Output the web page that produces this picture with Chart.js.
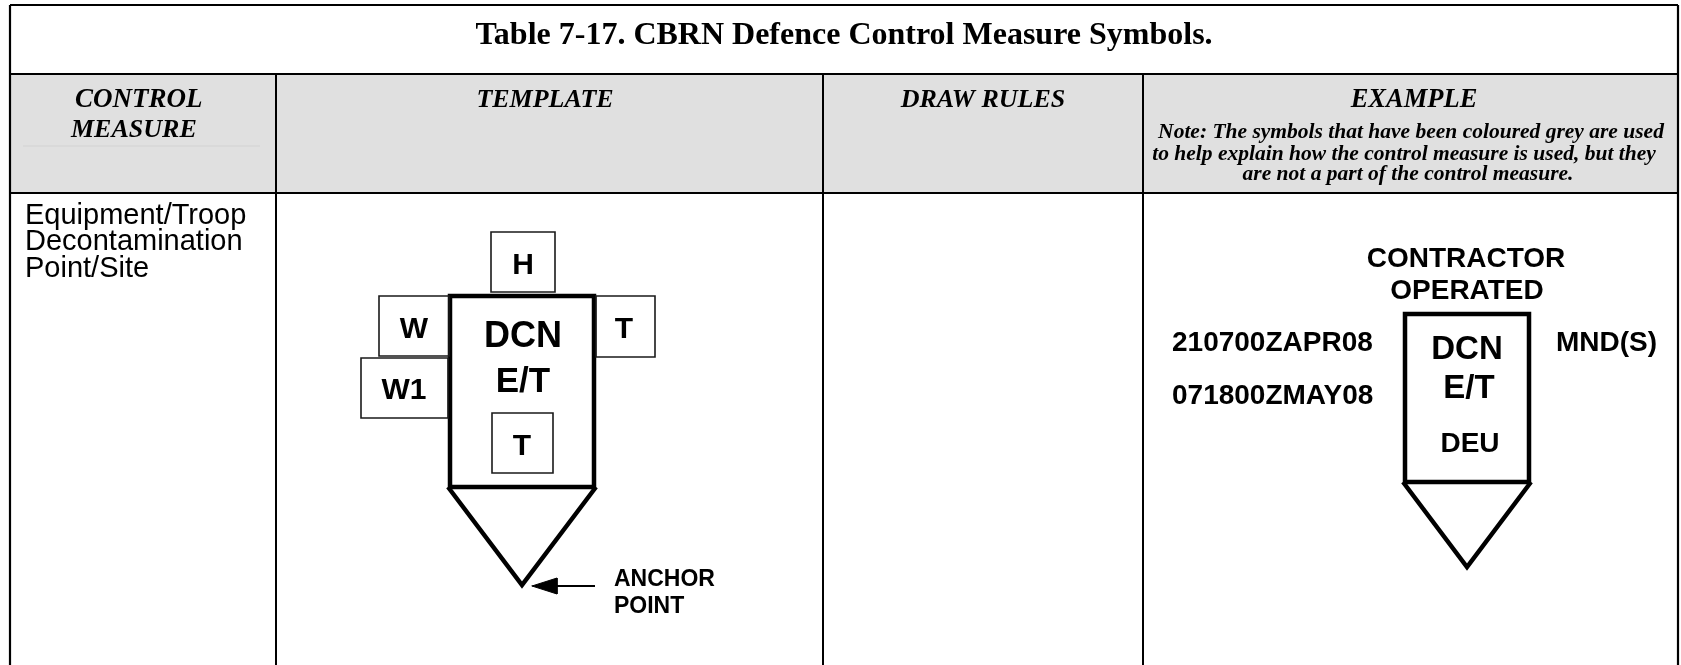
<!DOCTYPE html>
<html><head><meta charset="utf-8">
<script src="https://cdn.jsdelivr.net/npm/chart.js@4/dist/chart.umd.min.js"></script>
<style>html,body{margin:0;padding:0;background:#fff;overflow:hidden}#wrap{width:1681px;height:665px;position:relative}canvas{display:block}</style>
</head><body><div id="wrap"><canvas id="c" width="1681" height="665"></canvas></div>
<script>
// ---------- content (text) ----------
const tableTitle = "Table 7-17. CBRN Defence Control Measure Symbols.";
const columnHeaders = ["CONTROL", "MEASURE", "TEMPLATE", "DRAW RULES", "EXAMPLE"];
const noteLines = [
  "Note: The symbols that have been coloured grey are used",
  "to help explain how the control measure is used, but they",
  "are not a part of the control measure."
];
const controlMeasureLines = ["Equipment/Troop", "Decontamination", "Point/Site"];
const templateFieldLabels = ["H", "W", "W1", "T", "T"];
const templateMainLabels = ["DCN", "E/T"];
const anchorLabels = ["ANCHOR", "POINT"];
const exampleFieldLabels = ["CONTRACTOR", "OPERATED", "210700ZAPR08", "071800ZMAY08", "MND(S)"];
const exampleMainLabels = ["DCN", "E/T", "DEU"];

// ---------- geometry values (diagram units) ----------
const columnBounds = [10, 276, 823, 1143, 1678];
const rowBounds = [5, 74, 193, 665];
// template symbol
const templateFrame = [450, 296, 594, 487];           // x1,y1,x2,y2
const templateTip = [448, 487, 522, 585, 596, 487];   // left, apex, right
const templateFieldBoxes = [
  [491, 232, 555, 292],   // H
  [379, 296, 449, 356],   // W
  [361, 358, 448, 418],   // W1
  [596, 296, 655, 357],   // T (right)
  [492, 413, 553, 473]    // T (inside)
];
const anchorArrowShaft = [595, 586, 552, 586];
const anchorArrowHead = [532, 586, 557, 578, 557, 594];
// example symbol
const exampleFrame = [1405, 314, 1529, 482];
const exampleTip = [1403, 482, 1467, 567, 1531, 482];

// ---------- build datasets ----------
const datasets = [];
function addPath(pts, width, color, extra) {
  datasets.push(Object.assign({
    type: 'line',
    data: pts.map(p => ({x: p[0], y: p[1]})),
    borderColor: color, borderWidth: width,
    pointRadius: 0, pointHoverRadius: 0,
    fill: false, tension: 0, clip: false,
    borderJoinStyle: 'miter', borderCapStyle: 'square'
  }, extra || {}));
}
function rectPath(r) {
  const [x1, y1, x2, y2] = r, mx = (x1 + x2) / 2;
  return [[mx, y1], [x2, y1], [x2, y2], [x1, y2], [x1, y1], [mx, y1]];
}
// table grid
const L = columnBounds[0], R = columnBounds[columnBounds.length - 1];
const T = rowBounds[0], B = rowBounds[rowBounds.length - 1];
for (let i = 0; i < rowBounds.length - 1; i++) {
  addPath([[L, rowBounds[i]], [R, rowBounds[i]]], 2.2, '#000', {borderCapStyle: 'butt'});
}
addPath([[L, T], [L, B + 2]], 2.2, '#000', {borderCapStyle: 'butt'});
addPath([[R, T], [R, B + 2]], 2.2, '#000', {borderCapStyle: 'butt'});
for (let i = 1; i < columnBounds.length - 1; i++) {
  addPath([[columnBounds[i], rowBounds[1]], [columnBounds[i], B + 2]], 2, '#000', {borderCapStyle: 'butt'});
}
// faint rule under MEASURE
addPath([[23, 146], [260, 146]], 1, '#d2d2d2', {borderCapStyle: 'butt'});

// template symbol
templateFieldBoxes.forEach(b => addPath(rectPath(b), 1.6, '#1a1a1a'));
addPath(rectPath(templateFrame), 4.5, '#000');
addPath([[templateTip[0], templateTip[1]], [templateTip[2], templateTip[3]], [templateTip[4], templateTip[5]]], 4.5, '#000', {borderCapStyle: 'butt'});
addPath([[anchorArrowShaft[0], anchorArrowShaft[1]], [anchorArrowShaft[2], anchorArrowShaft[3]]], 2, '#000', {borderCapStyle: 'butt'});
addPath([[anchorArrowHead[0], anchorArrowHead[1]], [anchorArrowHead[2], anchorArrowHead[3]], [anchorArrowHead[4], anchorArrowHead[5]], [anchorArrowHead[0], anchorArrowHead[1]]],
  1, '#000', {fill: 'shape', backgroundColor: '#000'});
// example symbol
addPath(rectPath(exampleFrame), 4.5, '#000');
addPath([[exampleTip[0], exampleTip[1]], [exampleTip[2], exampleTip[3]], [exampleTip[4], exampleTip[5]]], 4.5, '#000', {borderCapStyle: 'butt'});

// ---------- text placement ----------
const SERIF = '"Liberation Serif", "Times New Roman", serif';
const SANS = '"Liberation Sans", Arial, sans-serif';
const texts = [
  {t: tableTitle, x: 844, y: 44, f: 'bold 32px ' + SERIF, a: 'center'},
  {t: columnHeaders[0], x: 75, y: 107, f: 'italic bold 27px ' + SERIF, a: 'left'},
  {t: columnHeaders[1], x: 71, y: 137, f: 'italic bold 26px ' + SERIF, a: 'left'},
  {t: columnHeaders[2], x: 545, y: 107, f: 'italic bold 26px ' + SERIF, a: 'center'},
  {t: columnHeaders[3], x: 983, y: 107, f: 'italic bold 26px ' + SERIF, a: 'center'},
  {t: columnHeaders[4], x: 1414, y: 107, f: 'italic bold 26.5px ' + SERIF, a: 'center'},
  {t: noteLines[0], x: 1411, y: 137.5, f: 'italic bold 21.5px ' + SERIF, a: 'center'},
  {t: noteLines[1], x: 1404, y: 159.5, f: 'italic bold 21.5px ' + SERIF, a: 'center'},
  {t: noteLines[2], x: 1408, y: 180, f: 'italic bold 21.5px ' + SERIF, a: 'center'},
  {t: controlMeasureLines[0], x: 25, y: 224, f: '29px ' + SANS, a: 'left'},
  {t: controlMeasureLines[1], x: 25, y: 250, f: '29px ' + SANS, a: 'left'},
  {t: controlMeasureLines[2], x: 25, y: 277, f: '29px ' + SANS, a: 'left'},
  // template labels
  {t: templateFieldLabels[0], x: 523, y: 274, f: 'bold 30px ' + SANS, a: 'center'},
  {t: templateFieldLabels[1], x: 414, y: 338, f: 'bold 30px ' + SANS, a: 'center'},
  {t: templateFieldLabels[2], x: 404, y: 399, f: 'bold 30px ' + SANS, a: 'center'},
  {t: templateFieldLabels[3], x: 624, y: 338, f: 'bold 30px ' + SANS, a: 'center'},
  {t: templateFieldLabels[4], x: 522, y: 455, f: 'bold 30px ' + SANS, a: 'center'},
  {t: templateMainLabels[0], x: 523, y: 347, f: 'bold 36px ' + SANS, a: 'center'},
  {t: templateMainLabels[1], x: 523, y: 392, f: 'bold 35px ' + SANS, a: 'center'},
  {t: anchorLabels[0], x: 614, y: 586, f: 'bold 23px ' + SANS, a: 'left'},
  {t: anchorLabels[1], x: 614, y: 613, f: 'bold 23px ' + SANS, a: 'left'},
  // example labels
  {t: exampleFieldLabels[0], x: 1466, y: 267, f: 'bold 28px ' + SANS, a: 'center'},
  {t: exampleFieldLabels[1], x: 1467, y: 299, f: 'bold 28px ' + SANS, a: 'center'},
  {t: exampleFieldLabels[2], x: 1172, y: 350.5, f: 'bold 28px ' + SANS, a: 'left'},
  {t: exampleFieldLabels[3], x: 1172, y: 404, f: 'bold 28px ' + SANS, a: 'left'},
  {t: exampleFieldLabels[4], x: 1556, y: 350.5, f: 'bold 28px ' + SANS, a: 'left'},
  {t: exampleMainLabels[0], x: 1467, y: 359, f: 'bold 33px ' + SANS, a: 'center'},
  {t: exampleMainLabels[1], x: 1469, y: 398, f: 'bold 33px ' + SANS, a: 'center'},
  {t: exampleMainLabels[2], x: 1470, y: 452, f: 'bold 28px ' + SANS, a: 'center'}
];

const tablePlugin = {
  id: 'tablePlugin',
  beforeDatasetsDraw(chart) {
    const {ctx, scales: {x, y}} = chart;
    ctx.save();
    ctx.fillStyle = '#e0e0e0';
    const x1 = x.getPixelForValue(L), x2 = x.getPixelForValue(R);
    const y1 = y.getPixelForValue(rowBounds[1]), y2 = y.getPixelForValue(rowBounds[2]);
    ctx.fillRect(x1, y1, x2 - x1, y2 - y1);
    ctx.restore();
  },
  afterDatasetsDraw(chart) {
    const {ctx, scales: {x, y}} = chart;
    ctx.save();
    ctx.fillStyle = '#000';
    ctx.textBaseline = 'alphabetic';
    texts.forEach(s => {
      ctx.font = s.f;
      ctx.textAlign = s.a;
      ctx.fillText(s.t, x.getPixelForValue(s.x), y.getPixelForValue(s.y));
    });
    ctx.restore();
  }
};

new Chart(document.getElementById('c'), {
  type: 'scatter',
  data: {datasets},
  options: {
    responsive: false, animation: false, events: [],
    layout: {padding: 0},
    plugins: {legend: {display: false}, tooltip: {enabled: false}},
    scales: {
      x: {type: 'linear', min: 0, max: 1681, display: false},
      y: {type: 'linear', min: 0, max: 665, reverse: true, display: false}
    }
  },
  plugins: [tablePlugin]
});
</script></body></html>
